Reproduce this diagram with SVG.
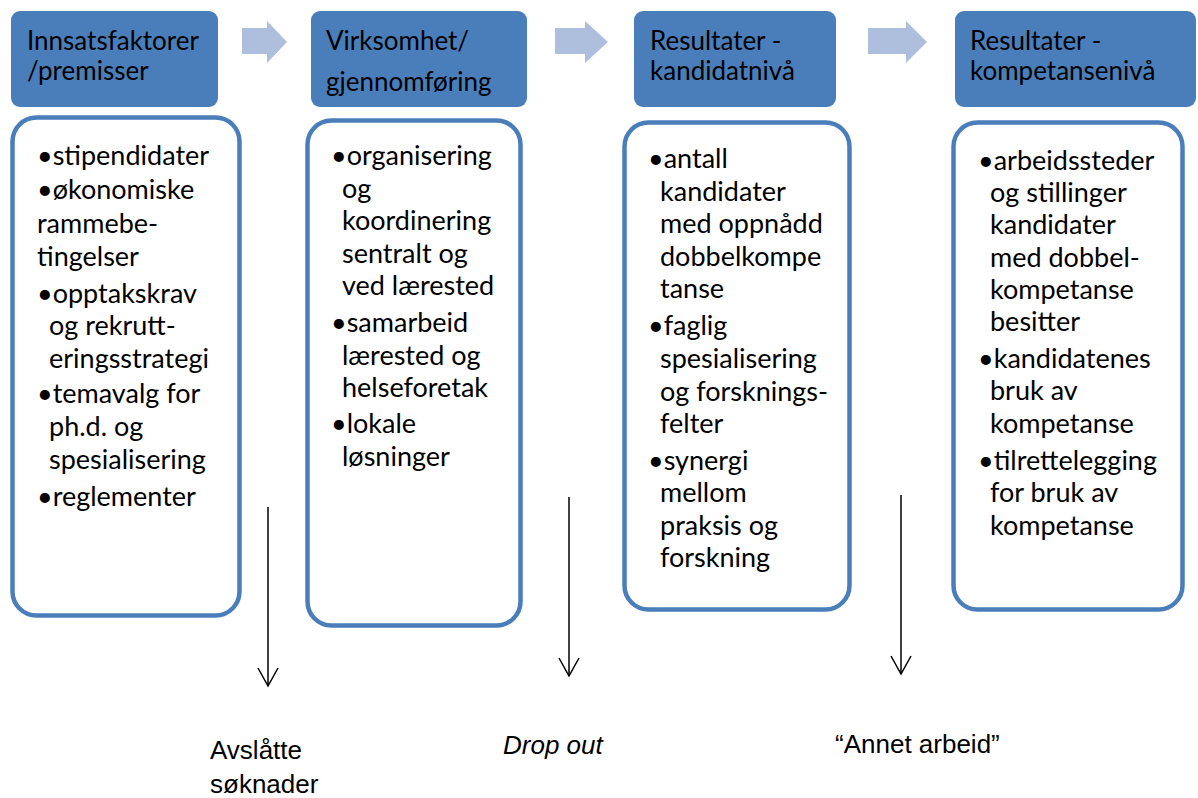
<svg xmlns="http://www.w3.org/2000/svg" width="1198" height="798" viewBox="0 0 1198 798">
<style>
.hdr{fill:#4a7ebb;}
.body{fill:#ffffff;stroke:#4a7ebb;stroke-width:4.5;}
.chev{fill:#adbfdc;}
.ht{font-family:Lato,"Liberation Sans",sans-serif;font-size:26px;fill:#000;}
.bt{font-family:Lato,"Liberation Sans",sans-serif;font-size:27px;fill:#000;}
.lbl{font-family:"Liberation Sans",Arial,sans-serif;font-size:26px;fill:#000;}
.conn{stroke:#000;stroke-width:1.5;fill:none;}
</style>
<defs>
<marker id="vhead" markerWidth="24" markerHeight="24" refX="20" refY="12" orient="auto" markerUnits="userSpaceOnUse" viewBox="0 0 24 24">
<path d="M2 2 L20 12 L2 22" fill="none" stroke="#000" stroke-width="1.5"/>
</marker>
</defs>
<rect width="1198" height="798" fill="#ffffff"/>

<g id="flow-arrows">
<polygon class="chev" points="242,28 267,28 267,21 287,42 267,63 267,54 242,54"/>
<polygon class="chev" points="555,28 585,28 585,21 608,42 585,63 585,54 555,54"/>
<polygon class="chev" points="868,28 906,28 906,21 927,42 906,63 906,54 868,54"/>
</g>

<g id="col1">
<rect class="hdr" x="11" y="11" width="207" height="96" rx="9"/>
<text class="ht" x="27" y="50">Innsatsfaktorer</text>
<text class="ht" x="27" y="80">/premisser</text>
<rect class="body" x="12.5" y="117.5" width="227" height="498" rx="24"/>
<text class="bt"><tspan x="37" y="165">•stipendidater</tspan><tspan x="37" y="199">•økonomiske</tspan><tspan x="37" y="233">rammebe-</tspan><tspan x="37" y="266">tingelser</tspan><tspan x="37" y="303">•opptakskrav</tspan><tspan x="49" y="335">og rekrutt-</tspan><tspan x="49" y="368">eringsstrategi</tspan><tspan x="37" y="403">•temavalg for</tspan><tspan x="49" y="436">ph.d. og</tspan><tspan x="49" y="469">spesialisering</tspan><tspan x="37" y="506">•reglementer</tspan></text>
</g>

<g id="col2">
<rect class="hdr" x="311" y="11" width="216" height="96" rx="9"/>
<text class="ht" x="326" y="50">Virksomhet/</text>
<text class="ht" x="326" y="91">gjennomføring</text>
<rect class="body" x="307.5" y="120.5" width="213" height="505" rx="24"/>
<text class="bt"><tspan x="331" y="165">•organisering</tspan><tspan x="342" y="198">og</tspan><tspan x="342" y="230">koordinering</tspan><tspan x="342" y="263">sentralt og</tspan><tspan x="342" y="295">ved lærested</tspan><tspan x="331" y="332">•samarbeid</tspan><tspan x="342" y="365">lærested og</tspan><tspan x="342" y="397">helseforetak</tspan><tspan x="331" y="433">•lokale</tspan><tspan x="342" y="466">løsninger</tspan></text>
</g>

<g id="col3">
<rect class="hdr" x="634" y="11" width="202" height="96" rx="9"/>
<text class="ht" x="650" y="50">Resultater -</text>
<text class="ht" x="650" y="80">kandidatnivå</text>
<rect class="body" x="624.5" y="122.5" width="225" height="487" rx="24"/>
<text class="bt"><tspan x="648" y="168">•antall</tspan><tspan x="660" y="201">kandidater</tspan><tspan x="660" y="233">med oppnådd</tspan><tspan x="660" y="266">dobbelkompe</tspan><tspan x="660" y="298">tanse</tspan><tspan x="648" y="335">•faglig</tspan><tspan x="660" y="368">spesialisering</tspan><tspan x="660" y="401">og forsknings-</tspan><tspan x="660" y="433">felter</tspan><tspan x="648" y="470">•synergi</tspan><tspan x="660" y="502">mellom</tspan><tspan x="660" y="535">praksis og</tspan><tspan x="660" y="567">forskning</tspan></text>
</g>

<g id="col4">
<rect class="hdr" x="955" y="11" width="241" height="96" rx="9"/>
<text class="ht" x="970" y="50">Resultater -</text>
<text class="ht" x="970" y="80">kompetansenivå</text>
<rect class="body" x="953.5" y="122.5" width="229" height="487" rx="24"/>
<text class="bt"><tspan x="978" y="170">•arbeidssteder</tspan><tspan x="990" y="202">og stillinger</tspan><tspan x="990" y="234">kandidater</tspan><tspan x="990" y="267">med dobbel-</tspan><tspan x="990" y="299">kompetanse</tspan><tspan x="990" y="331">besitter</tspan><tspan x="978" y="368">•kandidatenes</tspan><tspan x="990" y="400">bruk av</tspan><tspan x="990" y="433">kompetanse</tspan><tspan x="978" y="470">•tilrettelegging</tspan><tspan x="990" y="502">for bruk av</tspan><tspan x="990" y="535">kompetanse</tspan></text>
</g>

<g id="connectors">
<line class="conn" x1="268" y1="507" x2="268" y2="686" marker-end="url(#vhead)"/>
<line class="conn" x1="569" y1="497" x2="569" y2="676" marker-end="url(#vhead)"/>
<line class="conn" x1="901" y1="495" x2="901" y2="674" marker-end="url(#vhead)"/>
</g>

<g id="outcomes">
<text class="lbl" x="210" y="759">Avslåtte</text>
<text class="lbl" x="210" y="793">søknader</text>
<text class="lbl" x="503" y="754" font-style="italic">Drop out</text>
<text class="lbl" x="835" y="753">“Annet arbeid”</text>
</g>
</svg>
